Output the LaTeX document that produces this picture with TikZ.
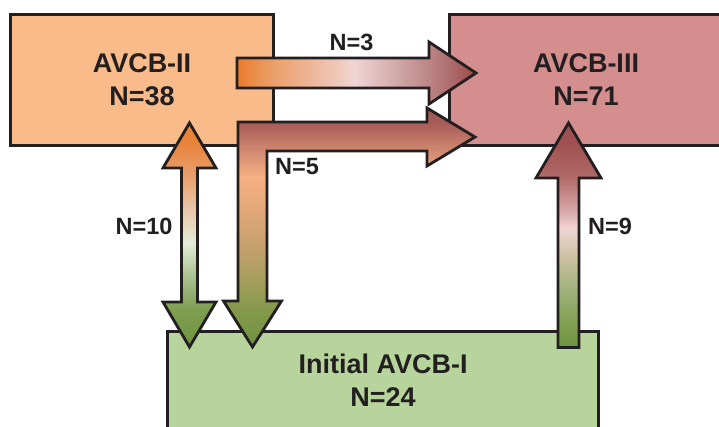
\documentclass[tikz,border=0pt]{standalone}
\usepackage{fontspec}
\setmainfont{Liberation Sans}
\usetikzlibrary{shadings}

\definecolor{ink}{HTML}{231F20}
\definecolor{boxorange}{HTML}{F9BB8A}
\definecolor{boxrose}{HTML}{D48E8E}
\definecolor{boxgreen}{HTML}{B7D49C}

% colour stops used by the arrow blends
\definecolor{leaf}{HTML}{6E9440}
\definecolor{moss}{HTML}{7E9E50}
\definecolor{fern}{HTML}{A8C090}
\definecolor{sage}{HTML}{E2ECD8}
\definecolor{sand}{HTML}{E8C8A8}
\definecolor{apricot}{HTML}{E9A070}
\definecolor{tangerine}{HTML}{E8843A}
\definecolor{hotorange}{HTML}{E97B2B}
\definecolor{melon}{HTML}{EB9A60}
\definecolor{shell}{HTML}{EFC4B4}
\definecolor{blush}{HTML}{F0D5D4}
\definecolor{dustrose}{HTML}{D0A8A8}
\definecolor{clay}{HTML}{B07070}
\definecolor{maroon}{HTML}{9B4848}
\definecolor{wine}{HTML}{A05050}
\definecolor{rosewood}{HTML}{B06A68}
\definecolor{mauve}{HTML}{D8A8A8}
\definecolor{khaki}{HTML}{C8C0A0}
\definecolor{olivine}{HTML}{9CB078}
\definecolor{olive}{HTML}{84984C}
\definecolor{bronze}{HTML}{A89E60}
\definecolor{tan}{HTML}{C8A070}
\definecolor{caramel}{HTML}{E2A87A}
\definecolor{peach}{HTML}{F5B084}
\definecolor{terracotta}{HTML}{D08A70}
\definecolor{brick}{HTML}{A65A57}

% II -> III, left to right
\pgfdeclarehorizontalshading{shadeTwoThree}{100bp}{%
  color(0bp)=(hotorange); color(25bp)=(hotorange); color(31bp)=(melon);
  color(45bp)=(shell); color(49.5bp)=(blush); color(58.5bp)=(dustrose);
  color(69bp)=(clay); color(75bp)=(maroon); color(100bp)=(maroon)}

% II <-> I, bottom to top
\pgfdeclareverticalshading{shadeTwoOne}{100bp}{%
  color(0bp)=(leaf); color(25bp)=(leaf); color(33.3bp)=(moss);
  color(40.6bp)=(fern); color(48.2bp)=(sage); color(55.6bp)=(sand);
  color(62.9bp)=(apricot); color(70.5bp)=(tangerine); color(100bp)=(tangerine)}

% I -> III, bottom to top
\pgfdeclareverticalshading{shadeOneThree}{100bp}{%
  color(0bp)=(leaf); color(25bp)=(leaf); color(29.7bp)=(moss);
  color(37.2bp)=(olivine); color(44.6bp)=(khaki); color(51.7bp)=(blush);
  color(55.4bp)=(mauve); color(63bp)=(rosewood); color(70.6bp)=(wine);
  color(100bp)=(wine)}

% bent arrow, bottom to top
\pgfdeclareverticalshading{shadeBent}{100bp}{%
  color(0bp)=(leaf); color(25bp)=(leaf); color(32.7bp)=(olive);
  color(39.6bp)=(bronze); color(46.8bp)=(tan); color(53.7bp)=(caramel);
  color(60.6bp)=(peach); color(66bp)=(terracotta); color(72.1bp)=(brick);
  color(100bp)=(brick)}

\tikzset{
  groupbox/.style={draw=ink, line width=3pt, rectangle, inner sep=0pt,
    align=center, text=ink,
    font=\fontsize{27}{33.5}\selectfont\bfseries},
  blockarrow/.style={draw=ink, line width=2.8pt, line join=miter},
  countlabel/.style={text=ink, inner sep=0pt,
    font=\fontsize{23.5}{27}\selectfont\bfseries}
}

\begin{document}
\begin{tikzpicture}[x=1pt, y=-1pt]
  \useasboundingbox (0,0) rectangle (719,427);
  \clip (0,0) rectangle (719,427);

  % the three groups
  \node[groupbox, fill=boxorange, minimum width=262.6pt, minimum height=131.3pt]
    (avcb2) at (142,79.7) {AVCB-II\\N=38};
  \node[groupbox, fill=boxrose, minimum width=273pt, minimum height=131.3pt]
    (avcb3) at (586,79.7) {AVCB-III\\N=71};
  \node[groupbox, fill=boxgreen, minimum width=431.2pt, minimum height=98pt]
    (avcb1) at (383,380) {Initial AVCB-I\\N=24};

  % II -> III
  \path[blockarrow, shading=shadeTwoThree]
    (237,58) -- (429,58) -- (429,42) -- (476,73) -- (429,104) -- (429,88)
    -- (237,88) -- cycle;

  % bent arrow: one branch to III, one down to I
  \path[blockarrow, shading=shadeBent]
    (238,122) -- (427,122) -- (427,108) -- (475,137) -- (427,166) -- (427,151)
    -- (267,151) -- (267,301) -- (281.5,301) -- (252.5,347) -- (223.5,301)
    -- (238,301) -- cycle;

  % II <-> I
  \path[blockarrow, shading=shadeTwoOne]
    (189.5,123) -- (216,168) -- (197.5,168) -- (197.5,302) -- (216,302)
    -- (189.5,347) -- (163,302) -- (181.5,302) -- (181.5,168) -- (163,168) -- cycle;

  % I -> III
  \path[blockarrow, shading=shadeOneThree]
    (568.5,123) -- (601,178) -- (579,178) -- (579,347.5) -- (558,347.5)
    -- (558,178) -- (536,178) -- cycle;

  % counts on the arrows
  \node[countlabel] (n3) at (351.5,42) {N=3};
  \node[countlabel] (n5) at (297,167) {N=5};
  \node[countlabel] (n10) at (144,226.5) {N=10};
  \node[countlabel] (n9) at (610,226) {N=9};
\end{tikzpicture}
\end{document}
